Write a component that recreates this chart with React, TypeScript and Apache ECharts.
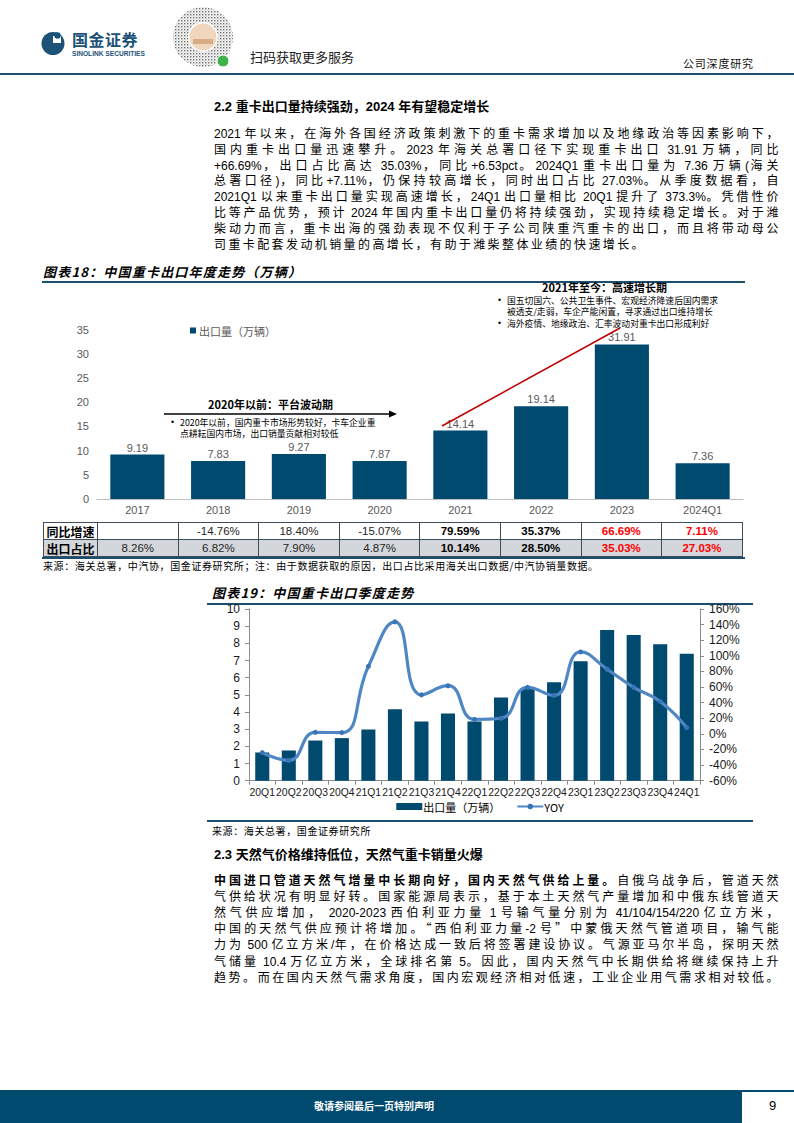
import React, { useEffect, useRef } from 'react';
import * as echarts from 'echarts';

// ---------- data ----------
const years = ['2017', '2018', '2019', '2020', '2021', '2022', '2023', '2024Q1'];
const annualExports = [9.19, 7.83, 9.27, 7.87, 14.14, 19.14, 31.91, 7.36];
const yoyGrowth = ['', '-14.76%', '18.40%', '-15.07%', '79.59%', '35.37%', '66.69%', '7.11%'];
const exportShare = ['8.26%', '6.82%', '7.90%', '4.87%', '10.14%', '28.50%', '35.03%', '27.03%'];

const quarters = ['20Q1', '20Q2', '20Q3', '20Q4', '21Q1', '21Q2', '21Q3', '21Q4', '22Q1', '22Q2', '22Q3', '22Q4', '23Q1', '23Q2', '23Q3', '23Q4', '24Q1'];
const quarterlyExports = [1.64, 1.76, 2.34, 2.48, 2.98, 4.16, 3.45, 3.92, 3.45, 4.85, 5.38, 5.73, 6.96, 8.77, 8.48, 7.95, 7.4];
const quarterlyYoy = [-24, -34, 2, 1.6, 86.5, 143.5, 50, 61.7, 18.5, 20, 59.6, 49.3, 105, 82.8, 59.6, 41.6, 8];

const yAnnualTicks = { min: 0, max: 35, interval: 5 };
const yQLeft = { min: 0, max: 10, interval: 1 };
const yQRight = { min: -60, max: 160, interval: 20 };

// ---------- text ----------
const para22 = [
  '2021 年以来，在海外各国经济政策刺激下的重卡需求增加以及地缘政治等因素影响下，',
  '国内重卡出口量迅速攀升。2023 年海关总署口径下实现重卡出口 31.91 万辆，同比',
  '+66.69%，出口占比高达 35.03%，同比+6.53pct。2024Q1 重卡出口量为 7.36 万辆(海关',
  '总署口径)，同比+7.11%，仍保持较高增长，同时出口占比 27.03%。从季度数据看，自',
  '2021Q1 以来重卡出口量实现高速增长，24Q1 出口量相比 20Q1 提升了 373.3%。凭借性价',
  '比等产品优势，预计 2024 年国内重卡出口量仍将持续强劲，实现持续稳定增长。对于潍',
  '柴动力而言，重卡出海的强劲表现不仅利于子公司陕重汽重卡的出口，而且将带动母公',
  '司重卡配套发动机销量的高增长，有助于潍柴整体业绩的快速增长。',
];
const para23 = [
  [{ t: '中国进口管道天然气增量中长期向好，国内天然气供给上量。', b: true }, { t: '自俄乌战争后，管道天然', b: false }],
  '气供给状况有明显好转。国家能源局表示，基于本土天然气产量增加和中俄东线管道天',
  '然气供应增加， 2020-2023 西伯利亚力量 1 号输气量分别为 41/104/154/220 亿立方米，',
  '中国的天然气供应预计将增加。“西伯利亚力量-2 号”中蒙俄天然气管道项目，输气能',
  '力为 500 亿立方米/年，在价格达成一致后将签署建设协议。气源亚马尔半岛，探明天然',
  '气储量 10.4 万亿立方米，全球排名第 5。因此，国内天然气中长期供给将继续保持上升',
  '趋势。而在国内天然气需求角度，国内宏观经济相对低速，工业企业用气需求相对较低。',
];

const NAVY = '#00496F';
const RULE = '#1B4F72';
const SANS = '"Liberation Sans", Arial, "Noto Sans CJK SC", sans-serif';
const CJK = '"Noto Sans CJK SC", "Liberation Sans", sans-serif';

const CJK_RE = /([\u2E80-\u9FFF\u3000-\u303F\uFF00-\uFFEF\u201C\u201D]+)/;

function Runs({ text, bold, spacing }: { text: string; bold?: boolean; spacing: number }) {
  const parts = text.split(CJK_RE).filter((p) => p.length > 0);
  return (
    <>
      {parts.map((p, i) =>
        CJK_RE.test(p) ? (
          <span key={i} style={{ fontFamily: CJK, letterSpacing: spacing, fontWeight: bold ? 700 : 400 }}>{p}</span>
        ) : (
          <span key={i} style={{ fontFamily: SANS, fontWeight: bold ? 700 : 400 }}>{p}</span>
        )
      )}
    </>
  );
}

function ParaLine({ content, top, justify, spacing }: { content: any; top: number; justify: boolean; spacing: number }) {
  const segs = typeof content === 'string' ? [{ t: content, b: false }] : content;
  return (
    <div
      style={{
        position: 'absolute', left: 214, top, width: 567, fontSize: 12, lineHeight: '16px', color: '#000',
        textAlign: 'justify', textAlignLast: justify ? 'justify' : 'left', whiteSpace: 'normal',
      } as any}
    >
      {segs.map((s: any, i: number) => <Runs key={i} text={s.t} bold={s.b} spacing={spacing} />)}
    </div>
  );
}

function AnnualChart() {
  const ref = useRef<HTMLDivElement>(null);
  useEffect(() => {
    const chart = echarts.init(ref.current!, undefined, { renderer: 'svg' });
    chart.setOption({
      animation: false,
      grid: { left: 57, right: 17, top: 44.5, bottom: 21 },
      legend: {
        data: ['出口量（万辆）'], left: 150, top: 40, padding: 0, itemWidth: 6, itemHeight: 6, icon: 'rect', itemGap: 4,
        textStyle: { fontSize: 11, color: '#595959', fontFamily: CJK, padding: [0, 0, 0, -2] },
      },
      xAxis: {
        type: 'category', data: years,
        axisLine: { lineStyle: { color: '#BFBFBF' } },
        axisTick: { inside: true, length: 4, lineStyle: { color: '#BFBFBF' } },
        axisLabel: { color: '#595959', fontSize: 11, fontFamily: SANS, margin: 5 },
      },
      yAxis: {
        type: 'value', ...yAnnualTicks,
        axisLine: { show: false }, axisTick: { show: false }, splitLine: { show: false },
        axisLabel: { color: '#595959', fontSize: 11, fontFamily: SANS, margin: 8 },
      },
      series: [{
        type: 'bar', name: '出口量（万辆）', data: annualExports, barWidth: '67%',
        itemStyle: { color: NAVY },
        label: { show: true, position: 'top', color: '#595959', fontSize: 11, fontFamily: SANS, distance: 1.5 },
      }],
      graphic: [
        { type: 'line', shape: { x1: 124, y1: 129, x2: 352, y2: 129 }, style: { stroke: '#000', lineWidth: 1.5 }, z: 100 },
        { type: 'polygon', shape: { points: [[349, 125.5], [357, 129], [349, 132.5]] }, style: { fill: '#000' }, z: 100 },
        { type: 'line', shape: { x1: 402, y1: 141, x2: 580, y2: 43 }, style: { stroke: '#C00000', lineWidth: 1.5 }, z: 100 },
      ],
    });
    return () => chart.dispose();
  }, []);
  return <div ref={ref} style={{ position: 'absolute', left: 40, top: 285, width: 720, height: 235 }} />;
}

function QuarterlyChart() {
  const ref = useRef<HTMLDivElement>(null);
  useEffect(() => {
    const chart = echarts.init(ref.current!, undefined, { renderer: 'svg' });
    const axisCommon = {
      axisLine: { show: true, lineStyle: { color: '#8C8C8C' } },
      axisTick: { show: true, length: 4, lineStyle: { color: '#8C8C8C' } },
      splitLine: { show: false },
    };
    chart.setOption({
      animation: false,
      grid: { left: 49, right: 60, top: 9, bottom: 41.3 },
      legend: {
        data: [{ name: '出口量（万辆）', icon: 'rect' }, { name: 'YOY' }],
        left: 'center', top: 201, padding: 0, itemWidth: 26, itemHeight: 7, itemGap: 16,
        textStyle: { fontSize: 11, color: '#000', fontFamily: CJK, padding: [0, 0, 0, -4] },
      },
      xAxis: {
        type: 'category', data: quarters,
        axisLine: { lineStyle: { color: '#8C8C8C' } },
        axisTick: { show: true, length: 4, lineStyle: { color: '#8C8C8C' } },
        axisLabel: { interval: 0, color: '#1a1a1a', fontSize: 10.4, fontFamily: SANS, margin: 7 },
      },
      yAxis: [
        {
          type: 'value', position: 'left', ...yQLeft, ...axisCommon,
          axisLabel: { color: '#1a1a1a', fontSize: 12, fontFamily: SANS, margin: 9 },
        },
        {
          type: 'value', position: 'right', ...yQRight, ...axisCommon,
          axisLabel: { color: '#1a1a1a', fontSize: 12, fontFamily: SANS, margin: 9, formatter: '{value}%' },
        },
      ],
      series: [
        {
          type: 'bar', name: '出口量（万辆）', data: quarterlyExports, yAxisIndex: 0, barWidth: '53%',
          itemStyle: { color: NAVY },
        },
        {
          type: 'line', name: 'YOY', data: quarterlyYoy, yAxisIndex: 1, smooth: true,
          symbol: 'circle', symbolSize: 5,
          lineStyle: { color: '#4F87C5', width: 3.2 },
          itemStyle: { color: '#3A74B8' },
        },
      ],
    });
    return () => chart.dispose();
  }, []);
  return <div ref={ref} style={{ position: 'absolute', left: 200, top: 600, width: 560, height: 222 }} />;
}

function Header() {
  return (
    <>
      <svg style={{ position: 'absolute', left: 40, top: 28 }} width={30} height={30} viewBox="0 0 30 30">
        <circle cx={13} cy={15.5} r={11.5} fill="#1D5278" />
        <rect x={13} y={8} width={8} height={7} fill="#fff" />
        <circle cx={17.5} cy={7.5} r={3.2} fill="#1D5278" />
      </svg>
      <div style={{ position: 'absolute', left: 72, top: 30, fontFamily: CJK, fontWeight: 700, fontSize: 16, color: '#1D5278', letterSpacing: 0.5, lineHeight: '18px' }}>国金证券</div>
      <div style={{ position: 'absolute', left: 72, top: 50, fontFamily: SANS, fontWeight: 700, fontSize: 6.6, color: '#1D5278', lineHeight: '7px', whiteSpace: 'nowrap' }}>SINOLINK SECURITIES</div>
      <svg style={{ position: 'absolute', left: 172, top: 5 }} width={62} height={64} viewBox="0 0 62 64">
        <defs>
          <pattern id="qrp" width="3" height="3" patternUnits="userSpaceOnUse">
            <rect x={0} y={0} width={1.4} height={1.4} fill="#666" />
            <rect x={1.6} y={1.6} width={1} height={1} fill="#999" />
          </pattern>
        </defs>
        <circle cx={31} cy={32} r={30} fill="url(#qrp)" />
        <circle cx={31} cy={32} r={15} fill="#fff" />
        <circle cx={31} cy={32} r={13.5} fill="#EFD6BC" />
        <rect x={21} y={34} width={20} height={5} fill="#D6AD83" />
        <circle cx={51} cy={56} r={6} fill="#3DB34A" stroke="#fff" strokeWidth={1} />
      </svg>
      <div style={{ position: 'absolute', left: 250, top: 49, fontFamily: CJK, fontSize: 13, color: '#222', lineHeight: '16px' }}>扫码获取更多服务</div>
      <div style={{ position: 'absolute', left: 683, top: 56, fontFamily: CJK, fontSize: 11, color: '#111', letterSpacing: 0.8, lineHeight: '14px' }}>公司深度研究</div>
      <div style={{ position: 'absolute', left: 0, top: 73, width: 794, height: 2, background: RULE }} />
    </>
  );
}

function AnnualTable() {
  const cell: React.CSSProperties = { border: '1px solid #3E4C5C', textAlign: 'center', padding: 0, fontFamily: SANS, fontSize: 11.5, color: '#262626', height: 16 };
  const style = (i: number): React.CSSProperties => ({
    ...cell,
    fontWeight: i >= 4 ? 700 : 400,
    color: i >= 6 ? '#FF0000' : i >= 4 ? '#000' : '#262626',
  });
  return (
    <table style={{ position: 'absolute', left: 43, top: 522, borderCollapse: 'collapse', tableLayout: 'fixed', width: 699, lineHeight: '15px' }}>
      <colgroup>
        <col style={{ width: 54 }} />
        {years.map((y) => <col key={y} style={{ width: 80.6 }} />)}
      </colgroup>
      <tbody>
        <tr style={{ background: '#fff' }}>
          <td style={{ ...cell, fontFamily: CJK, fontWeight: 700, fontSize: 12, color: '#000' }}>同比增速</td>
          {yoyGrowth.map((v, i) => <td key={i} style={style(i)}>{v}</td>)}
        </tr>
        <tr style={{ background: '#D3D6DA' }}>
          <td style={{ ...cell, fontFamily: CJK, fontWeight: 700, fontSize: 12, color: '#000' }}>出口占比</td>
          {exportShare.map((v, i) => <td key={i} style={style(i)}>{v}</td>)}
        </tr>
      </tbody>
    </table>
  );
}

export default function App() {
  const t = (s: any, st: React.CSSProperties) => (
    <div style={{ position: 'absolute', whiteSpace: 'nowrap', ...st }}>{s}</div>
  );
  const small: React.CSSProperties = { fontFamily: CJK, fontSize: 8.8, lineHeight: '11.5px' };
  return (
    <div style={{ position: 'absolute', left: 0, top: 0, width: 794, height: 1123, overflow: 'hidden', background: '#fff', color: '#000' }}>
      <Header />

      {/* Section 2.2 */}
      {t('2.2 重卡出口量持续强劲，2024 年有望稳定增长', { left: 214, top: 99, fontFamily: SANS, fontWeight: 700, fontSize: 13, lineHeight: '16px' })}
      {para22.map((l, i) => (
        <ParaLine key={i} content={l} top={125 + i * 15.8} justify={i < para22.length - 1} spacing={2.4} />
      ))}

      {/* Chart 18 */}
      {t('图表18：中国重卡出口年度走势（万辆）', { left: 43, top: 264, fontFamily: CJK, fontWeight: 700, fontStyle: 'italic', fontSize: 13, letterSpacing: 1.2, lineHeight: '16px' })}
      <div style={{ position: 'absolute', left: 42, top: 281, width: 703, height: 1.5, background: RULE }} />
      <AnnualChart />
      {t('2020年以前：平台波动期', { left: 208, top: 397.5, fontFamily: CJK, fontWeight: 700, fontSize: 11, lineHeight: '13px' })}
      {t('•', { ...small, left: 171, top: 416.5, fontFamily: SANS })}
      {t('2020年以前，国内重卡市场形势较好，卡车企业重', { ...small, left: 180, top: 416.5 })}
      {t('点耕耘国内市场，出口销量贡献相对较低', { ...small, left: 180, top: 428 })}
      {t('2021年至今：高速增长期', { left: 542, top: 281, fontFamily: CJK, fontWeight: 700, fontSize: 11, lineHeight: '13px' })}
      {t('•', { ...small, left: 498, top: 294.5, fontFamily: SANS })}
      {t('国五切国六、公共卫生事件、宏观经济降速后国内需求', { ...small, left: 507, top: 294.5 })}
      {t('被透支/走弱，车企产能闲置，寻求通过出口维持增长', { ...small, left: 507, top: 306 })}
      {t('•', { ...small, left: 498, top: 317.5, fontFamily: SANS })}
      {t('海外疫情、地缘政治、汇率波动对重卡出口形成利好', { ...small, left: 507, top: 317.5 })}
      <AnnualTable />
      <div style={{ position: 'absolute', left: 42, top: 557, width: 703, height: 1.5, background: RULE }} />
      {t('来源：海关总署，中汽协，国金证券研究所；注：由于数据获取的原因，出口占比采用海关出口数据/中汽协销量数据。', { left: 43, top: 559, fontFamily: CJK, fontSize: 10, letterSpacing: 0.6, lineHeight: '13px' })}

      {/* Chart 19 */}
      {t('图表19：中国重卡出口季度走势', { left: 212, top: 585, fontFamily: CJK, fontWeight: 700, fontStyle: 'italic', fontSize: 13, letterSpacing: 1.2, lineHeight: '16px' })}
      <div style={{ position: 'absolute', left: 207, top: 603, width: 546, height: 1.5, background: RULE }} />
      <QuarterlyChart />
      <div style={{ position: 'absolute', left: 207, top: 820, width: 546, height: 1.5, background: RULE }} />
      {t('来源：海关总署，国金证券研究所', { left: 212, top: 824, fontFamily: CJK, fontSize: 10, letterSpacing: 0.6, lineHeight: '13px' })}

      {/* Section 2.3 */}
      {t('2.3 天然气价格维持低位，天然气重卡销量火爆', { left: 214, top: 847, fontFamily: SANS, fontWeight: 700, fontSize: 13, lineHeight: '16px' })}
      {para23.map((l, i) => (
        <ParaLine key={i} content={l} top={872 + i * 16.1} justify={true} spacing={2.4} />
      ))}

      {/* Footer */}
      <div style={{ position: 'absolute', left: 0, top: 1090, width: 742, height: 33, background: '#00496F' }} />
      <div style={{ position: 'absolute', left: 742, top: 1090, width: 52, height: 1.5, background: '#00496F' }} />
      {t('敬请参阅最后一页特别声明', { left: 314, top: 1099, fontFamily: CJK, fontSize: 10, color: '#fff', fontWeight: 700, lineHeight: '14px' })}
      {t('9', { left: 769, top: 1098, fontFamily: SANS, fontSize: 13, lineHeight: '16px' })}
    </div>
  );
}
